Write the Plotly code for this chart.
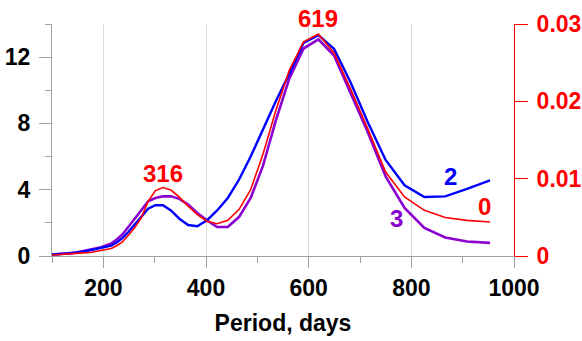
import plotly.graph_objects as go

# Period grid (days)
period = [100.0, 104.9, 110.1, 115.5, 121.2, 127.1, 133.4, 139.9, 146.8, 154.0,
          161.6, 169.5, 177.8, 186.5, 195.7, 205.4, 215.4, 226.0, 237.1, 248.7,
          261.0, 273.8, 287.3, 301.4, 316.2, 331.7, 348.1, 365.2, 383.1, 401.9,
          421.7, 442.4, 464.2, 487.0, 511.1, 536.2, 562.3, 590.0, 619.0, 649.4,
          681.3, 714.8, 749.9, 786.8, 825.4, 866.0, 908.5, 953.2]

# Series "2" (blue, left axis)
series2 = [0.10, 0.10, 0.11, 0.12, 0.13, 0.14, 0.15, 0.17, 0.20, 0.23,
           0.27, 0.32, 0.37, 0.43, 0.50, 0.55, 0.62, 0.82, 1.08, 1.45,
           1.90, 2.42, 2.85, 3.06, 3.07, 2.75, 2.25, 1.87, 1.80, 2.15,
           2.75, 3.50, 4.60, 6.00, 7.65, 9.35, 11.00, 12.86, 13.33, 12.50,
           10.50, 8.10, 5.80, 4.27, 3.56, 3.60, 4.05, 4.57]

# Series "3" (purple, left axis)
series3 = [0.08, 0.09, 0.10, 0.11, 0.12, 0.14, 0.16, 0.18, 0.21, 0.25,
           0.29, 0.34, 0.40, 0.46, 0.53, 0.62, 0.75, 1.00, 1.30, 1.75,
           2.25, 2.80, 3.30, 3.50, 3.60, 3.60, 3.45, 3.10, 2.60, 2.15,
           1.75, 1.75, 2.35, 3.50, 5.45, 8.20, 10.70, 12.52, 13.07, 12.10,
           9.90, 7.50, 4.80, 2.90, 1.70, 1.12, 0.87, 0.79]

# Series "0" (red, right axis)
series0 = [0.00013, 0.00015, 0.00015, 0.00017, 0.00017, 0.00019, 0.00021, 0.00026, 0.00030, 0.00034,
           0.00039, 0.00043, 0.00049, 0.00058, 0.00069, 0.00081, 0.00096, 0.00133, 0.00182, 0.00268,
           0.00364, 0.00493, 0.00707, 0.00846, 0.00885, 0.00853, 0.00761, 0.00643, 0.00536, 0.00450,
           0.00418, 0.00461, 0.00600, 0.00857, 0.01318, 0.01886, 0.02400, 0.02769, 0.02869, 0.02625,
           0.02164, 0.01650, 0.01086, 0.00763, 0.00591, 0.00497, 0.00461, 0.00439]

left_ticks = [0, 4, 8, 12]
right_ticks = [0, 0.01, 0.02, 0.03]
right_ticktext = ["0", "0.01", "0.02", "0.03"]
x_ticks = [200, 400, 600, 800, 1000]

BLUE = "#0000ff"
RED = "#ff0000"
PURPLE = "#8b00d0"
FONT = "Liberation Sans, Arial, sans-serif"

fig = go.Figure()
fig.add_trace(go.Scatter(x=period, y=series3, mode="lines",
                         line=dict(color=PURPLE, width=2.6), showlegend=False))
fig.add_trace(go.Scatter(x=period, y=series2, mode="lines",
                         line=dict(color=BLUE, width=2.4), showlegend=False))
fig.add_trace(go.Scatter(x=period, y=series0, mode="lines", yaxis="y2",
                         line=dict(color=RED, width=1.6), showlegend=False))

annots = [
    dict(x=316, y=5.0, text="316", color=RED, yref="y"),
    dict(x=619, y=1.0246, text="619", color=RED, yref="paper"),
    dict(x=877, y=4.77, text="2", color=BLUE, yref="y"),
    dict(x=942, y=2.96, text="0", color=RED, yref="y"),
    dict(x=772, y=2.26, text="3", color=PURPLE, yref="y"),
]
for a in annots:
    fig.add_annotation(x=a["x"], y=a["y"], xref="x", yref=a["yref"], text=a["text"],
                       showarrow=False, xanchor="center", yanchor="middle",
                       font=dict(family=FONT, size=24, color=a["color"], weight="bold"))

fig.update_layout(
    width=582, height=341,
    margin=dict(l=52, r=68, t=24, b=85),
    plot_bgcolor="white", paper_bgcolor="white",
    xaxis=dict(range=[100, 1000], tickvals=x_ticks, showgrid=True, gridcolor="#d9d9d9",
               gridwidth=1, zeroline=False, showline=True, linecolor="#a0a0a0", linewidth=1,
               ticks="outside", ticklen=11, tickcolor="#a0a0a0", tickwidth=1,
               automargin=False,
               minor=dict(tickvals=[100, 300, 500, 700, 900], ticks="outside", ticklen=6,
                          tickcolor="#a0a0a0", showgrid=False),
               tickfont=dict(family=FONT, size=23, color="black", weight="bold"),
               title=dict(text="Period, days", standoff=15,
                          font=dict(family=FONT, size=23, color="black", weight="bold"))),
    yaxis=dict(range=[0, 14], tickvals=left_ticks, showgrid=False, zeroline=False,
               showline=True, linecolor="#a0a0a0", linewidth=1, automargin=False,
               ticks="outside", ticklen=12, tickcolor="#a0a0a0", tickwidth=1,
               ticklabelstandoff=4,
               minor=dict(tickvals=[2, 6, 10, 14], ticks="outside", ticklen=6,
                          tickcolor="#a0a0a0", showgrid=False),
               tickfont=dict(family=FONT, size=23, color="black", weight="bold")),
    yaxis2=dict(range=[0, 0.03], overlaying="y", side="right", tickvals=right_ticks,
                ticktext=right_ticktext, showgrid=False, zeroline=False, automargin=False,
                showline=True, linecolor=RED, linewidth=1,
                ticks="outside", ticklen=13, tickcolor=RED, tickwidth=1,
                ticklabelstandoff=4,
                tickfont=dict(family=FONT, size=23, color=RED, weight="bold")),
)

fig.write_html("out.html", config={"displayModeBar": False},
               post_script="document.body.style.margin='0';document.body.style.padding='0';")
